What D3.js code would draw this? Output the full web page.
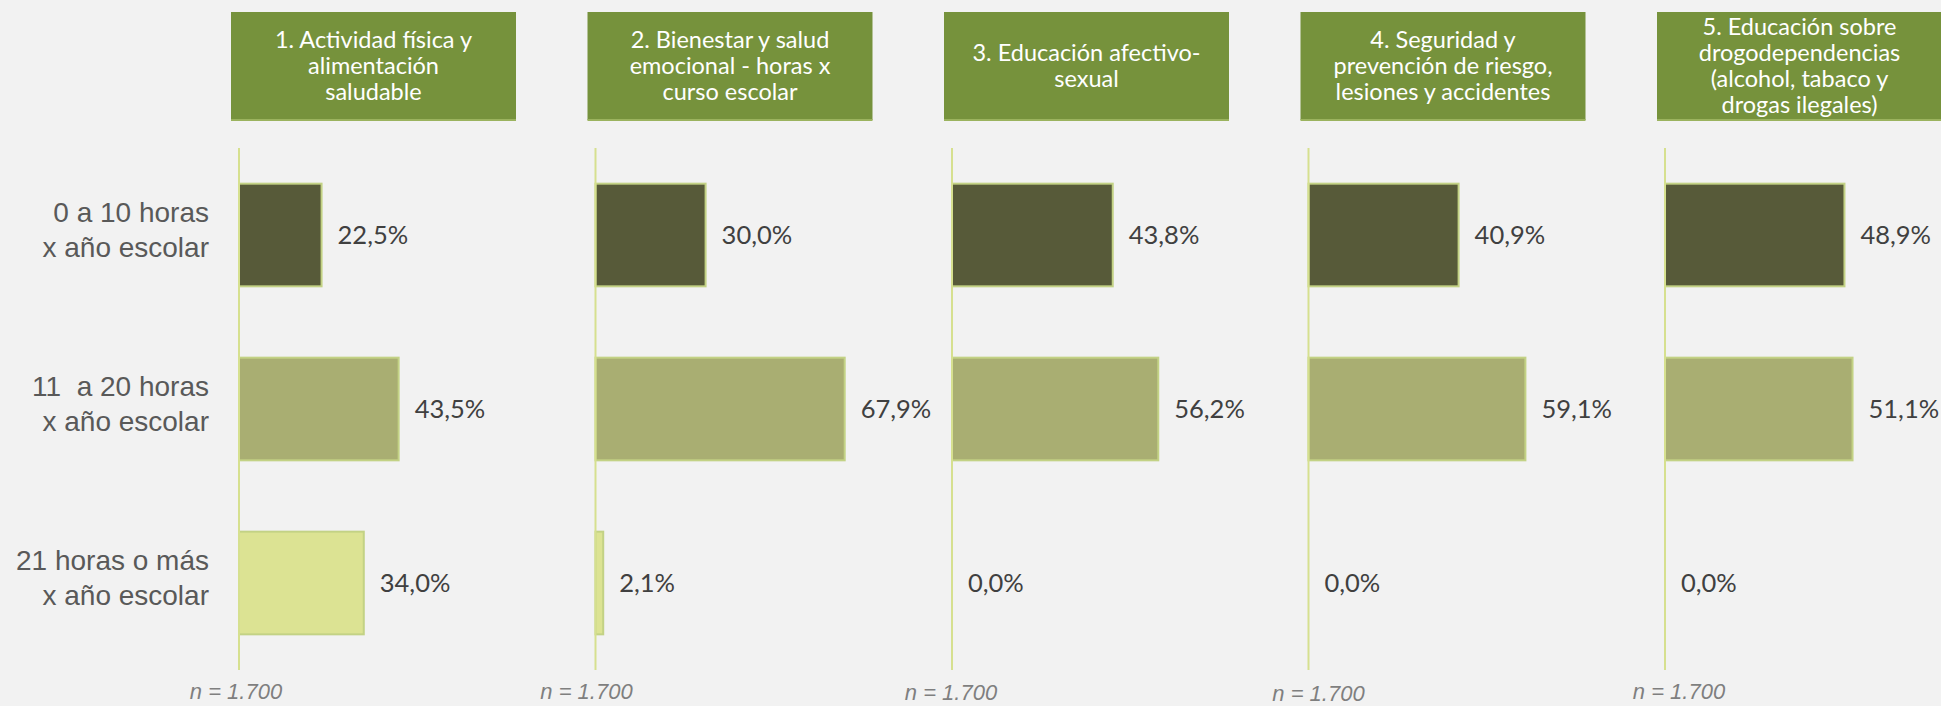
<!DOCTYPE html>
<html>
<head>
<meta charset="utf-8">
<script src="https://cdn.jsdelivr.net/npm/d3@7"></script>
<style>
  body { margin: 0; background: #f2f2f2; }
  svg { display: block; }
</style>
</head>
<body>
<div id="chart"></div>
<script>
// categories (rows), two text lines each
const categories = [
    ["0 a 10 horas", "x año escolar"],
    ["11  a 20 horas", "x año escolar"],
    ["21 horas o más", "x año escolar"]
];

// panel titles, one entry per line
const titles = [
    ["1. Actividad física y", "alimentación", "saludable"],
    ["2. Bienestar y salud", "emocional - horas x", "curso escolar"],
    ["3. Educación afectivo-", "sexual"],
    ["4. Seguridad y", "prevención de riesgo,", "lesiones y accidentes"],
    ["5. Educación sobre", "drogodependencias", "(alcohol, tabaco y", "drogas ilegales)"]
];

// % per panel, in category order
const values = [
    [22.5, 43.5, 34.0],
    [30.0, 67.9, 2.1],
    [43.8, 56.2, 0.0],
    [40.9, 59.1, 0.0],
    [48.9, 51.1, 0.0]
];

const sampleLabels = ["n = 1.700", "n = 1.700", "n = 1.700", "n = 1.700", "n = 1.700"];

    const width = 1941;
    const height = 706;

    const fills = ["#575a39", "#a9ae72", "#dce393"];
    // small nudges of the n labels, as in the original slide
    const nShift = [[-3, 0], [-9, 0], [-1, 1], [10, 2], [14, 0]];

    const svg = d3.select("#chart")
        .append("svg")
            .attr("width", width)
            .attr("height", height);

    svg.append("rect")
        .attr("width", width)
        .attr("height", height)
        .attr("fill", "#f2f2f2");

    const panel = d3.scaleBand()
        .domain(d3.range(titles.length))
        .range([231, 231 + 5 * 356.5]);

    const y = d3.scaleBand()
        .domain(d3.range(categories.length))
        .range([148, 670])
        .paddingInner(0.41)
        .paddingOuter(0.205);

    const x = d3.scaleLinear()
        .domain([0, 100])
        .range([0, 367]);

// row labels on the left
const rowLabels = svg.append("g")
    .selectAll("text")
    .data(categories)
    .enter()
    .append("text")
    .attr("x", 209)
    .attr("y", (d, i) => y(i) + y.bandwidth() / 2)
    .style("text-anchor", "end")
    .style("font-family", "'Liberation Sans', Arial, sans-serif")
    .style("font-size", "28px")
    .style("fill", "#595959")
    .style("white-space", "pre");

rowLabels.append("tspan")
    .attr("x", 209)
    .attr("dy", -13)
    .text(d => d[0]);
rowLabels.append("tspan")
    .attr("x", 209)
    .attr("dy", 35)
    .text(d => d[1]);

const panels = svg.selectAll("g.panel")
    .data(titles)
    .enter()
    .append("g")
    .attr("class", "panel")
    .attr("transform", (d, i) => `translate(${panel(i)},0)`);

// header boxes
panels.append("rect")
    .attr("x", 0)
    .attr("y", 12)
    .attr("width", 285)
    .attr("height", 108)
    .attr("fill", "#76923c");
panels.append("rect")
    .attr("x", 0)
    .attr("y", 119)
    .attr("width", 285)
    .attr("height", 2)
    .attr("fill", "#9bb35e");

panels.each(function(t, p) {
    const g = d3.select(this);
    const axisX = 8;
    const top = 66 - (t.length - 1) * 26 / 2;

    g.append("g")
        .selectAll("text")
        .data(t)
        .enter()
        .append("text")
        .attr("x", 142.5)
        .attr("y", (d, i) => top + i * 26)
        .attr("dy", "0.35em")
        .style("text-anchor", "middle")
        .style("font-family", "Lato, sans-serif")
        .style("font-size", "23.5px")
        .style("fill", "#ffffff")
        .text(d => d);

    // bars
    g.append("g")
        .selectAll("rect")
        .data(values[p])
        .enter()
        .append("rect")
        .attr("x", axisX)
        .attr("y", (d, i) => y(i))
        .attr("width", d => x(d))
        .attr("height", y.bandwidth())
        .attr("fill", (d, i) => fills[i])
        .attr("stroke", d => d > 0 ? "#c3d285" : "none")
        .attr("stroke-width", 2);

    // vertical axis line
    g.append("line")
        .attr("x1", axisX)
        .attr("x2", axisX)
        .attr("y1", 148)
        .attr("y2", 670)
        .attr("stroke", "#d6e08f")
        .attr("stroke-width", 2);

    // value labels
    g.append("g")
        .selectAll("text")
        .data(values[p])
        .enter()
        .append("text")
        .attr("x", d => axisX + x(d) + 16)
        .attr("y", (d, i) => y(i) + y.bandwidth() / 2)
        .attr("dy", "0.35em")
        .style("font-family", "Lato, sans-serif")
        .style("font-size", "25.5px")
        .style("fill", "#404040")
        .text(d => d3.format(".1f")(d).replace(".", ",") + "%");

    // sample size
    g.append("text")
        .attr("x", axisX + nShift[p][0])
        .attr("y", 699 + nShift[p][1])
        .style("text-anchor", "middle")
        .style("font-family", "'Liberation Sans', Arial, sans-serif")
        .style("font-style", "italic")
        .style("font-size", "22px")
        .style("fill", "#7f7f7f")
        .text(sampleLabels[p]);
});
</script>
</body>
</html>
